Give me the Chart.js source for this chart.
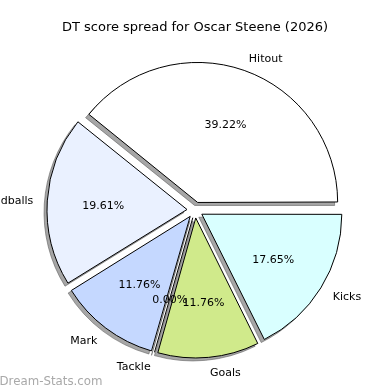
<!DOCTYPE html>
<html>
<head>
<meta charset="utf-8">
<script src="https://cdn.jsdelivr.net/npm/chart.js@4.4.1/dist/chart.umd.min.js"></script>
<style>
  html, body { margin: 0; padding: 0; background: #fff; }
  canvas { display: block; }
</style>
</head>
<body>
<canvas id="pie" width="390" height="390"></canvas>
<script>
const categories = ['Hitout', 'Handballs', 'Mark', 'Tackle', 'Goals', 'Kicks'];
const scores = [20, 10, 6, 0, 6, 9];
const sliceColours = ['#ffffff', '#eaf1ff', '#c5d8ff', '#d8d8d8', '#d0ea8b', '#d9ffff'];
const chartTitle = 'DT score spread for Oscar Steene (2026)';
const watermark = 'Dream-Stats.com';

// matplotlib runs counter-clockwise from 3 o'clock, chart.js clockwise -> reverse
const labels = categories.slice().reverse();
const values = scores.slice().reverse();
const colours = sliceColours.slice().reverse();
const total = scores.reduce((a, b) => a + b, 0);

const EXPLODE = 32;   // chart.js moves an arc by offset / 4
const SHADOW = 3;
const FONT = '"DejaVu Sans", sans-serif';

function pushOf(arc) {
    return (arc.options.offset || 0) / 4;
}

const piePlugin = {
    id: 'mplPie',
    beforeDatasetsDraw(chart) {
        const ctx = chart.ctx;
        const meta = chart.getDatasetMeta(0);
        const baseR = meta.controller.outerRadius;
        // undo the radius growth chart.js adds to offset arcs
        meta.data.forEach(arc => {
            const circ = arc.endAngle - arc.startAngle;
            arc.outerRadius = baseR - pushOf(arc) * (1 - Math.sin(Math.min(Math.PI, circ)));
        });
        // drop shadows
        ctx.save();
        ctx.fillStyle = 'rgba(77,77,77,0.5)';
        ctx.strokeStyle = 'rgba(77,77,77,0.5)';
        ctx.lineWidth = 1;
        ctx.lineJoin = 'miter';
        meta.data.forEach(arc => {
            const mid = (arc.startAngle + arc.endAngle) / 2;
            const cx = arc.x + Math.cos(mid) * pushOf(arc) - SHADOW;
            const cy = arc.y + Math.sin(mid) * pushOf(arc) + SHADOW;
            ctx.beginPath();
            ctx.moveTo(cx, cy);
            ctx.arc(cx, cy, baseR, arc.startAngle, arc.endAngle);
            ctx.closePath();
            ctx.fill();
            ctx.stroke();
        });
        // zero slices still show as a line
        ctx.strokeStyle = '#000';
        meta.data.forEach(arc => {
            if (arc.endAngle - arc.startAngle > 0) return;
            const a = arc.startAngle;
            const cx = arc.x + Math.cos(a) * pushOf(arc);
            const cy = arc.y + Math.sin(a) * pushOf(arc);
            ctx.beginPath();
            ctx.moveTo(cx, cy);
            ctx.lineTo(cx + Math.cos(a) * baseR, cy + Math.sin(a) * baseR);
            ctx.stroke();
        });
        ctx.restore();
    },
    afterDatasetsDraw(chart) {
        const ctx = chart.ctx;
        const meta = chart.getDatasetMeta(0);
        const baseR = meta.controller.outerRadius;
        ctx.save();
        ctx.fillStyle = '#000';
        ctx.font = '11px ' + FONT;
        ctx.textBaseline = 'middle';
        meta.data.forEach((arc, i) => {
            const mid = (arc.startAngle + arc.endAngle) / 2;
            const ux = Math.cos(mid), uy = Math.sin(mid);
            const cx = arc.x + ux * pushOf(arc);
            const cy = arc.y + uy * pushOf(arc) + 1.5;
            ctx.textAlign = ux > 0 ? 'left' : 'right';
            ctx.fillText(labels[i], cx + ux * baseR * 1.1, cy + uy * baseR * 1.1);
            ctx.textAlign = 'center';
            const pct = (values[i] / total * 100).toFixed(2) + '%';
            ctx.fillText(pct, cx + ux * baseR * 0.6, cy + uy * baseR * 0.6);
        });
        // title
        ctx.font = '13px ' + FONT;
        ctx.textAlign = 'center';
        ctx.textBaseline = 'alphabetic';
        ctx.fillText(chartTitle, chart.width / 2, 30.5);
        // watermark
        ctx.font = '11.8px ' + FONT;
        ctx.fillStyle = '#a9a9a9';
        ctx.textAlign = 'left';
        ctx.fillText(watermark, -0.5, 384.5);
        ctx.restore();
    }
};

const pie = new Chart(document.getElementById('pie').getContext('2d'), {
    type: 'pie',
    data: {
        labels: labels,
        datasets: [{
            data: values,
            backgroundColor: colours,
            borderColor: '#000',
            borderWidth: 1,
            borderJoinStyle: 'miter',
            offset: EXPLODE,
            hoverOffset: EXPLODE
        }]
    },
    options: {
        responsive: false,
        animation: false,
        events: [],
        rotation: 90,
        radius: 140,
        layout: { padding: { top: 30, bottom: 0, left: 0, right: 0 } },
        plugins: {
            legend: { display: false },
            tooltip: { enabled: false },
            title: { display: false }
        }
    },
    plugins: [piePlugin]
});
</script>
</body>
</html>
